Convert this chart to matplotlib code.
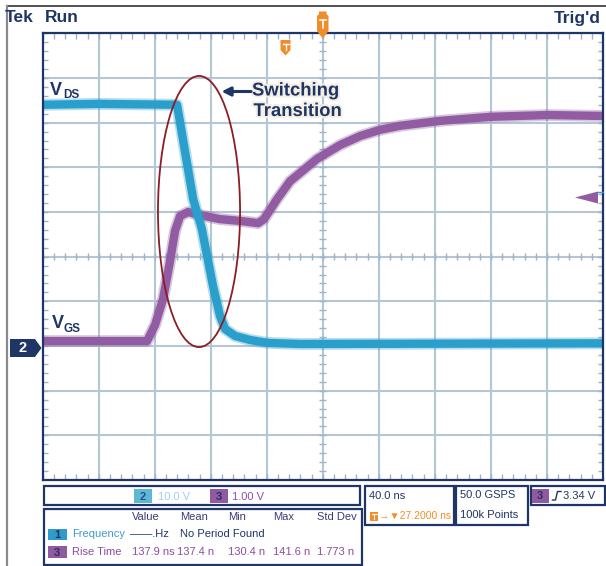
import matplotlib
matplotlib.use('Agg')
import matplotlib.pyplot as plt
from matplotlib.patches import Ellipse, Rectangle, Polygon
import matplotlib.patheffects as pe
import numpy as np

plt.rcParams['font.family'] = ['Liberation Sans', 'DejaVu Sans']

timebase_ns = 40.0          # ns / div
ch2_scale_v = 10.0          # V / div  (VDS)
ch3_scale_v = 1.0           # V / div  (VGS)
ch2_offset_div = -2.0
ch3_offset_div = -2.0

vds_time_ns = [-200, -160, -104.1, -92.6, -86.4, -78.4, -73.4, -69.8, -62.7, -52.0, -39.8, -16.2, 60, 200]
vds_volts = [54.0, 54.2, 54.0, 32.9, 26.2, 13.4, 6.7, 3.8, 2.25, 1.35, 0.7, 0.45, 0.5, 0.6]

vgs_time_ns = [-200, -125.5, -119.8, -114.1, -109.1, -105.5, -101.9, -96.2, -87.6, -73.4, -59.1,
               -46.2, -42.0, -32.6, -23.4, -4.1, 12.4, 26.6, 40.9, 55.2, 83.8, 119.5, 160.2, 200]
vgs_volts = [0.11, 0.11, 0.47, 1.05, 1.90, 2.58, 2.91, 3.00, 2.93, 2.84, 2.80,
             2.75, 2.84, 3.29, 3.69, 4.19, 4.50, 4.70, 4.84, 4.93, 5.04, 5.13, 5.17, 5.15]

ellipse_center_ns = -88.4
ellipse_center_div = 1.01
ellipse_width_ns = 58.6
ellipse_height_div = 6.07

meas_headers = ["Value", "Mean", "Min", "Max", "Std Dev"]
rise_values = ["137.9 ns", "137.4 n", "130.4 n", "141.6 n", "1.773 n"]

# ---------------- styling ----------------
W, H = 606, 566
navy = '#1F3566'
cyan = '#2B9FCB'
purple = '#915CA2'
gridc = '#B5C6D5'
orange = '#F28C28'
red = '#8C1D24'

fig = plt.figure(figsize=(W / 100, H / 100), dpi=100)
fig.patch.set_facecolor('white')
L, R, T, B = 42.7, 603.0, 33.3, 480.0
ax = fig.add_axes([L / W, 1 - B / H, (R - L) / W, (B - T) / H])
ax.set_xlim(-5, 5)
ax.set_ylim(-5, 5)
ax.set_xticks([])
ax.set_yticks([])
for s in ax.spines.values():
    s.set_color(navy)
    s.set_linewidth(1.6)
    s.set_zorder(6)

for i in range(-4, 5):
    ax.axvline(i, color=gridc, lw=1.5, zorder=1)
    ax.axhline(i, color=gridc, lw=1.5, zorder=1)

hx = 5 / 56.0
vy = 6 / 44.67
for k in np.arange(-5, 5.001, 0.2):
    kw = dict(color='#9FB2C6', lw=1.0, zorder=2, solid_capstyle='butt')
    ax.plot([-5, -5 + hx], [k, k], **kw)
    ax.plot([5 - hx, 5], [k, k], **kw)
    ax.plot([k, k], [5 - vy, 5], **kw)
    ax.plot([k, k], [-5, -5 + vy], **kw)
    ax.plot([k, k], [-vy * 0.6, vy * 0.6], **kw)
    ax.plot([-hx * 0.7, hx * 0.7], [k, k], **kw)

# traces
xv = np.array(vds_time_ns) / timebase_ns
yv = np.array(vds_volts) / ch2_scale_v + ch2_offset_div
xg = np.array(vgs_time_ns) / timebase_ns
yg = np.array(vgs_volts) / ch3_scale_v + ch3_offset_div

ax.plot(xg, yg, color=purple, lw=8.5, alpha=0.35, zorder=3, solid_joinstyle='round')
ax.plot(xg, yg, color=purple, lw=6.0, zorder=3, solid_joinstyle='round')
ax.plot(xv, yv, color=cyan, lw=8.5, alpha=0.35, zorder=4, solid_joinstyle='round')
ax.plot(xv, yv, color=cyan, lw=6.0, zorder=4, solid_joinstyle='round')

ax.add_patch(Ellipse((ellipse_center_ns / timebase_ns, ellipse_center_div),
                     ellipse_width_ns / timebase_ns, ellipse_height_div,
                     fill=False, ec=red, lw=1.3, zorder=5))

# ---------------- overlay in pixel coordinates ----------------
ov = fig.add_axes([0, 0, 1, 1], zorder=10)
ov.set_xlim(0, W)
ov.set_ylim(H, 0)
ov.axis('off')
ov.patch.set_alpha(0)

ov.plot([7, 606], [6, 6], color='#333333', lw=1.2)
ov.plot([7, 7], [6, 566], color='#8A8A8A', lw=1.6)

tkw = dict(color=navy, fontsize=12.5, fontweight='bold', va='center')
ov.text(5, 18, 'Tek', ha='left', **tkw)
ov.text(45, 18, 'Run', ha='left', **tkw)
ov.text(601, 18, "Trig'd", ha='right', **tkw)

# orange trigger markers
cx = 322.7
ov.add_patch(Polygon([(319, 11.5), (326.5, 11.5), (326.5, 14), (328.5, 16), (328.5, 31),
                      (cx, 38.5), (317, 31), (317, 16), (319, 14)], closed=True,
                     fc=orange, ec='none', zorder=20))
ov.plot([319.5, 326], [19.5, 19.5], color='white', lw=1.2, zorder=21)
ov.plot([cx, cx], [19.5, 27.5], color='white', lw=1.2, zorder=21)
ov.add_patch(Polygon([(280.5, 40), (290.5, 40), (290.5, 50), (285.5, 55.5), (280.5, 50)],
                     closed=True, fc=orange, ec='none', zorder=20))
ov.plot([282.5, 288.5], [43.5, 43.5], color='white', lw=1.0, zorder=21)
ov.plot([285.5, 285.5], [43.5, 49.5], color='white', lw=1.0, zorder=21)

# channel 2 marker
ov.add_patch(Polygon([(10, 339), (35, 339), (41.5, 348), (35, 357), (10, 357)],
                     closed=True, fc=navy, ec='none', zorder=20))
ov.text(22.5, 348.5, '2', color='white', fontsize=10.5, fontweight='bold',
        ha='center', va='center', zorder=21)

# trigger level arrow (right)
ov.add_patch(Polygon([(575, 197.5), (598, 191.5), (598, 203.5)], closed=True,
                     fc=purple, ec='none', zorder=20))
ov.plot([598, 603], [191.5, 191.5], color=cyan, lw=1.0, zorder=20)

# trace labels
lkw = dict(color=navy, fontweight='bold', va='baseline', ha='left')
ov.text(49.5, 95, 'V', fontsize=13, **lkw)
ov.text(63, 97.5, 'DS', fontsize=8.5, **lkw)
ov.text(51.5, 328.5, 'V', fontsize=13, **lkw)
ov.text(63, 332, 'GS', fontsize=8.5, **lkw)

# annotation
halo = [pe.withStroke(linewidth=3, foreground='#F4EFE4')]
ov.text(252, 95.5, 'Switching', fontsize=13.3, fontweight='bold', color=navy,
        ha='left', va='baseline', path_effects=halo)
ov.text(253.5, 116, 'Transition', fontsize=13.3, fontweight='bold', color=navy,
        ha='left', va='baseline', path_effects=halo)
ov.annotate('', xy=(221.5, 91.5), xytext=(251, 91.5),
            arrowprops=dict(arrowstyle='-|>', color=navy, lw=2.2, mutation_scale=13,
                            shrinkA=0, shrinkB=0))

# ---------------- bottom info panel ----------------
def box(x0, y0, x1, y1):
    ov.add_patch(Rectangle((x0, y0), x1 - x0, y1 - y0, fill=False, ec=navy, lw=1.6, zorder=15))

def badge(x0, y0, x1, y1, fc, label, tc):
    ov.add_patch(Rectangle((x0, y0), x1 - x0, y1 - y0, fc=fc, ec='none', zorder=15))
    ov.text((x0 + x1) / 2, (y0 + y1) / 2 + 0.5, label, color=tc, fontsize=8, ha='center',
            va='center', fontweight='bold', zorder=16)

fs = 8
box(43.5, 486, 360, 505)
box(43.5, 509, 362, 565)
box(364.5, 486, 453.5, 524.5)
box(456, 486, 528, 525)
box(530.5, 486, 604.5, 505)

badge(134, 489, 152, 503, '#5DB8D6', '2', '#2F4F80')
ov.text(158, 496.5, '10.0 V', color='#9ED2E6', fontsize=fs, ha='left', va='center')
badge(210, 489, 227.5, 503, '#8F5A9F', '3', '#2F2D60')
ov.text(232, 496.5, '1.00 V', color='#8F4F9F', fontsize=fs, ha='left', va='center')

hcol = '#3D3C78'
hx_pos = [132, 180, 228, 273, 317]
for x, h in zip(hx_pos, meas_headers):
    ov.text(x, 517, h, color=hcol, fontsize=fs, ha='left', va='center')
badge(48, 528.5, 66.5, 539.5, '#2F9ACB', '1', '#1F3566')
ov.text(72, 534, 'Frequency', color='#3E9AD3', fontsize=fs, ha='left', va='center')
ov.text(130, 534, '——.Hz', color=navy, fontsize=fs, ha='left', va='center')
ov.text(180, 534, 'No Period Found', color=navy, fontsize=fs, ha='left', va='center')
badge(48, 546, 66.5, 558, '#8F5A9F', '3', '#2F2D60')
ov.text(72, 552, 'Rise Time', color='#8E4C9C', fontsize=fs, ha='left', va='center')
vx_pos = [132, 177, 228, 273, 317]
for x, v in zip(vx_pos, rise_values):
    ov.text(x, 552, v, color='#8E4C9C', fontsize=fs, ha='left', va='center')

ov.text(369, 496, '40.0 ns', color=navy, fontsize=fs, ha='left', va='center')
ov.add_patch(Rectangle((370, 511.5), 8, 9, fc=orange, ec='none', zorder=15))
ov.plot([371.5, 376.5], [513.5, 513.5], color='white', lw=0.8, zorder=16)
ov.plot([374, 374], [513.5, 518.5], color='white', lw=0.8, zorder=16)
ov.text(379, 516, '→▼27.2000 ns', color=orange, fontsize=7.5, ha='left', va='center')

ov.text(460, 495.5, '50.0 GSPS', color=navy, fontsize=fs, ha='left', va='center')
ov.text(460, 514.5, '100k Points', color=navy, fontsize=fs, ha='left', va='center')

badge(532, 488.5, 548.5, 503, '#8F5A9F', '3', '#2F2D60')
ov.plot([552.5, 555.5, 557.5, 561], [500, 500, 491.5, 491.5], color=navy, lw=1.0, zorder=16)
ov.text(563, 496, '3.34 V', color=navy, fontsize=fs, ha='left', va='center')

fig.savefig('out.png', dpi=100, facecolor='white')
